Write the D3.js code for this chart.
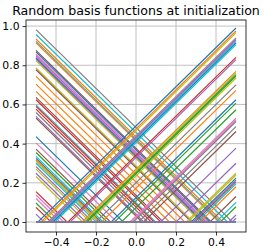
<!DOCTYPE html>
<html>
<head>
<meta charset="utf-8">
<script src="https://cdn.jsdelivr.net/npm/d3@7"></script>
<style>
  body { margin: 0; background: #fff; }
  svg { display: block; font-family: "DejaVu Sans", sans-serif; }
</style>
</head>
<body>
<svg id="chart" width="266" height="252"></svg>
<script>

// value of each falling basis function at x = -0.5  (relu(knot - x))
var fallingStart = [0.982, 0.957, 0.934, 0.922, 0.915, 0.876, 0.868, 0.858, 0.849, 0.842,
	0.836, 0.830, 0.824, 0.786, 0.777, 0.743, 0.704, 0.667, 0.636, 0.624,
	0.598, 0.590, 0.576, 0.559, 0.539, 0.530, 0.436, 0.404, 0.372, 0.355,
	0.335, 0.325, 0.318, 0.310, 0.283, 0.270, 0.249, 0.232, 0.155, 0.138,
	0.120, 0.097, 0.075, 0.040, 0.300];
var fallingColor = ["gray", "cyan", "orange", "cyan", "orange", "brown", "blue", "pink", "purple", "pink",
	"blue", "purple", "olive", "olive", "brown", "orange", "orange", "orange", "brown", "red",
	"cyan", "red", "red", "gray", "purple", "brown", "blue", "pink", "brown", "green",
	"cyan", "blue", "orange", "olive", "purple", "olive", "purple", "olive", "red", "pink",
	"pink", "green", "red", "purple", "cyan"];

// value of each rising basis function at x = 0.5  (relu(x - knot))
var risingEnd = [0.990, 0.975, 0.965, 0.940, 0.935, 0.930, 0.922, 0.914, 0.905, 0.840,
	0.829, 0.769, 0.762, 0.752, 0.745, 0.735, 0.700, 0.672, 0.624, 0.607,
	0.573, 0.530, 0.522, 0.513, 0.462, 0.377, 0.300, 0.249, 0.240, 0.224,
	0.215, 0.206, 0.195, 0.180, 0.130, 0.100, 0.078, 0.036, 0.019, 0.487];
var risingColor = ["blue", "orange", "olive", "gray", "pink", "purple", "cyan", "blue", "cyan", "red",
	"purple", "orange", "olive", "green", "green", "olive", "gray", "orange", "blue", "green",
	"green", "pink", "pink", "gray", "brown", "purple", "purple", "olive", "olive", "blue",
	"purple", "brown", "cyan", "orange", "brown", "cyan", "green", "purple", "purple", "gray"];

var xTicks = [-0.4, -0.2, 0.0, 0.2, 0.4];
var yTicks = [0.0, 0.2, 0.4, 0.6, 0.8, 1.0];
var titleText = "Random basis functions at initialization";

var tab10 = {blue:"#1f77b4", orange:"#ff7f0e", green:"#2ca02c", red:"#d62728", purple:"#9467bd",
	brown:"#8c564b", pink:"#e377c2", gray:"#7f7f7f", olive:"#bcbd22", cyan:"#17becf"};

var plotBox = {left: 26, right: 246, top: 20, bottom: 232};

var svg = d3.select("#chart");

var xScale = d3.scaleLinear().domain([-0.55, 0.55]).range([plotBox.left, plotBox.right]);
var yScale = d3.scaleLinear().domain([-0.051, 1.031]).range([plotBox.bottom, plotBox.top]);

// grid
var gridG = svg.append("g").attr("class", "grid");
gridG.selectAll("line.gx").data(xTicks).enter().append("line")
	.attr("x1", function(d){ return xScale(d); })
	.attr("x2", function(d){ return xScale(d); })
	.attr("y1", plotBox.top).attr("y2", plotBox.bottom)
	.attr("stroke", "#b0b0b0").attr("stroke-width", 0.8);
gridG.selectAll("line.gy").data(yTicks).enter().append("line")
	.attr("y1", function(d){ return yScale(d); })
	.attr("y2", function(d){ return yScale(d); })
	.attr("x1", plotBox.left).attr("x2", plotBox.right)
	.attr("stroke", "#b0b0b0").attr("stroke-width", 0.8);

// build the relu pieces
function fallingPoints(v){
	var knot = v - 0.5;
	return [-0.5, Math.min(knot, 0.5), 0.5].map(function(x){ return [x, Math.max(0, knot - x)]; });
}
function risingPoints(v){
	var knot = 0.5 - v;
	return [-0.5, Math.max(knot, -0.5), 0.5].map(function(x){ return [x, Math.max(0, x - knot)]; });
}

var lineData = [];
fallingStart.forEach(function(v, i){ lineData.push({pts: fallingPoints(v), color: tab10[fallingColor[i]]}); });
risingEnd.forEach(function(v, i){ lineData.push({pts: risingPoints(v), color: tab10[risingColor[i]]}); });

var lineGen = d3.line()
	.x(function(d){ return xScale(d[0]); })
	.y(function(d){ return yScale(d[1]); });

svg.append("clipPath").attr("id", "plotClip").append("rect")
	.attr("x", plotBox.left).attr("y", plotBox.top)
	.attr("width", plotBox.right - plotBox.left).attr("height", plotBox.bottom - plotBox.top);

svg.append("g").attr("clip-path", "url(#plotClip)")
	.selectAll("path").data(lineData).enter().append("path")
	.attr("d", function(d){ return lineGen(d.pts); })
	.attr("fill", "none")
	.attr("stroke", function(d){ return d.color; })
	.attr("stroke-width", 1.2);

// axes
var xAxis = d3.axisBottom(xScale).tickValues(xTicks).tickSize(3.5).tickPadding(3)
	.tickFormat(function(d){ return d3.format(".1f")(d).replace("-", "\u2212"); });
var yAxis = d3.axisLeft(yScale).tickValues(yTicks).tickSize(3.5).tickPadding(3)
	.tickFormat(d3.format(".1f"));

var gx = svg.append("g").attr("transform", "translate(0," + plotBox.bottom + ")").call(xAxis);
var gy = svg.append("g").attr("transform", "translate(" + plotBox.left + ",0)").call(yAxis);

[gx, gy].forEach(function(g){
	g.select(".domain").remove();
	g.selectAll(".tick line").attr("stroke", "#000").attr("stroke-width", 0.8);
	g.selectAll(".tick text").attr("font-size", 10.8).attr("fill", "#000")
		.attr("font-family", "DejaVu Sans");
});

// spines
svg.append("rect")
	.attr("x", plotBox.left).attr("y", plotBox.top)
	.attr("width", plotBox.right - plotBox.left).attr("height", plotBox.bottom - plotBox.top)
	.attr("fill", "none").attr("stroke", "#000").attr("stroke-width", 0.8);

svg.append("text")
	.attr("x", (plotBox.left + plotBox.right) / 2)
	.attr("y", 14.5)
	.attr("text-anchor", "middle")
	.attr("font-size", 12.6)
	.attr("fill", "#000")
	.text(titleText);

</script>
</body>
</html>
